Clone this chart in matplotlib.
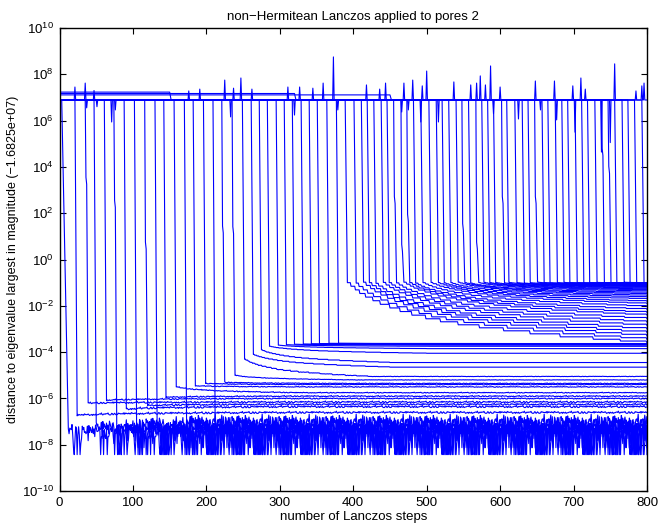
import numpy as np
import matplotlib
matplotlib.use("Agg")
import matplotlib.pyplot as plt
from matplotlib.ticker import FixedLocator, NullLocator, FuncFormatter

plt.rcParams['font.family'] = ['Liberation Sans', 'DejaVu Sans']
plt.rcParams['mathtext.fontset'] = 'custom'
plt.rcParams['mathtext.rm'] = 'Liberation Sans'

N_STEPS = 800
TOP_LEVEL = 6.89          # log10 distance of the unconverged Ritz values
ULP = 3.73e-9             # double spacing near |lambda| = 1.68e7

# ---- converging copies of the eigenvalue -------------------------------
drop_steps = [3, 21, 35, 47, 61, 74, 88, 102, 116, 130, 142, 156, 170, 182, 196,
              209, 221, 235, 249, 261, 272, 283, 295, 306, 317, 329, 340, 351, 364, 377,
              389, 401, 411, 419, 428, 438, 446, 455, 465, 473, 482, 492, 503, 513, 521,
              530, 540, 548, 557, 567, 575, 583,
              591, 602, 609, 620, 630, 638, 647, 657, 665, 675, 684, 692, 702, 711, 719,
              729, 738, 747, 756, 766, 774, 783, 793]
drop_lengths = [9] + [3] * 74
land_levels = [-8.0, -6.72, -6.2, -7.1, -6.07, -7.2, -6.45, -7.0, -6.3, -7.3, -5.95, -5.5, -6.9, -5.45, -5.35,
               -7.1, -5.3, -5.0, -4.3, -4.1, -3.9, -3.75, -3.7, -3.68, -3.66, -3.65, -3.64, -3.63, -3.62, -3.62,
               -1.0, -1.02, -0.98, -1.0, -1.03, -0.99, -1.0, -1.01, -0.98, -1.0, -1.02, -1.0, -0.99, -1.0, -1.01,
               -1.0, -0.98, -1.0, -1.02, -1.0, -0.99, -1.0,
               -1.0, -1.01, -0.99, -1.0, -1.02, -1.0, -0.98, -1.0, -1.01, -1.0, -0.99, -1.0, -1.0, -1.02, -1.0,
               -0.99, -1.0, -1.01, -1.0, -0.98, -1.0, -1.0, -1.0]
end_levels = [-8.0, -6.6, -6.15, -7.1, -6.0, -7.2, -6.35, -7.0, -6.25, -7.3, -5.9, -5.75, -6.9, -5.5, -5.4,
              -7.1, -5.35, -5.2, -5.05, -4.65, -4.45, -4.05, -3.85, -3.75, -3.7, -3.68, -3.66, -3.65, -3.64, -3.63,
              -3.6, -3.45, -3.3, -3.15, -3.0, -2.85, -2.7, -2.55, -2.4, -2.28, -2.15, -2.02, -1.9, -1.8, -1.7,
              -1.62, -1.55, -1.48, -1.42, -1.36, -1.31, -1.27,
              -1.23, -1.2, -1.17, -1.15, -1.13, -1.11, -1.09, -1.08, -1.07, -1.06, -1.05, -1.04, -1.03, -1.02, -1.02,
              -1.01, -1.01, -1.0, -1.0, -1.0, -1.0, -1.0, -1.0]
settle_steps = [300, 300, 300, 300, 300, 300, 300, 300, 300, 300, 300, 320, 300, 340, 360,
                300, 380, 400, 420, 450, 450, 500, 500, 520, 540, 560, 580, 600, 620, 640] + [800] * 45
noise_ulps = [11, 0, 0, 16, 0, 13, 0, 22, 0, 9, 0, 0, 28, 0, 0,
              15, 0, 0, 0, 0, 0, 0, 0, 0, 0, 0, 0, 0, 0, 0] + [0] * 45
# small wobble (decades) of the stagnated copies
wobble = [0, 0.05, 0.04, 0, 0.03, 0, 0.05, 0, 0.04, 0, 0.03, 0.02, 0, 0.02, 0.02,
          0, 0.02, 0.01, 0.01, 0, 0, 0, 0, 0, 0, 0, 0, 0, 0, 0] + [0] * 45

# rounding noise of converged copies, in units of one ulp
noise_pattern = [13, 9, 17, 4, 11, 1, 15, 8, 20, 12, 6, 14, 1, 10, 18, 7,
                 13, 3, 16, 11, 9, 22, 5, 12, 1, 14, 8, 19, 10, 6, 15, 2,
                 13, 17, 7, 11, 1, 16, 9, 12, 24, 4, 10, 14, 1, 8, 18, 11,
                 6, 13, 3, 15, 9, 21, 7, 12, 1, 10, 16, 5, 14, 8, 19, 11]

# shape of the slow staircase descent after a copy has landed
stair_frac_t = [0.0, 0.01, 0.025, 0.04, 0.06, 0.085, 0.11, 0.14, 0.175, 0.215, 0.26,
                0.31, 0.37, 0.44, 0.52, 0.61, 0.71, 0.82, 0.91, 1.0]
stair_frac_v = [0.0, 0.06, 0.12, 0.18, 0.24, 0.3, 0.36, 0.42, 0.48, 0.54, 0.6,
                0.65, 0.7, 0.75, 0.8, 0.85, 0.9, 0.94, 0.97, 1.0]

# short pauses part way down a drop
kink_steps = [35, 74, 116, 221, 235, 455, 465, 473, 548, 567, 602, 647, 738, 747]
kink_levels = [3.4, 2.4, 0.6, 1.3, 1.27, 2.57, 0.5, 1.8, 1.4, 0.6, 2.57, 2.57, 4.64, 3.87]

# excursions of the unconverged Ritz value
spike_steps = [21, 35, 37, 47, 51, 71, 76, 176, 191, 225, 233, 237, 247, 262, 311, 320, 327,
               345, 359, 373, 379, 418, 436, 444, 466, 469, 475, 481, 492, 494, 500, 516,
               537, 560, 568, 573, 580, 587, 591, 600, 625, 648, 655, 674, 677, 699, 702,
               710, 716, 738, 750, 756, 785, 793, 796]
spike_levels = [7.45, 7.62, 6.55, 7.3, 6.6, 5.94, 6.46, 7.28, 7.36, 7.75, 6.16, 7.4, 7.84, 7.36, 7.45, 6.24, 7.45,
                7.4, 7.62, 8.75, 6.46, 7.54, 7.36, 7.62, 6.37, 7.62, 6.46, 7.75, 5.94, 7.5, 8.14, 5.94,
                7.67, 7.54, 7.62, 7.93, 7.54, 8.36, 6.3, 7.45, 6.07, 7.71, 6.46, 7.71, 6.03, 7.5, 5.5,
                7.84, 7.36, 4.64, 5.05, 8.45, 7.28, 7.5, 7.62]

# Ritz values that never converge
band_levels = [7.23, 7.17, 7.11]
band_ends = [150, 320, 450]

pattern = np.array(noise_pattern, float)


def converging_path(j):
    d = drop_steps[j]
    lv, ev = land_levels[j], end_levels[j]
    xs, ys = [1, d], [TOP_LEVEL, TOP_LEVEL]
    if d in kink_steps:
        k = kink_levels[kink_steps.index(d)]
        xs += [d + 1, d + 2]
        ys += [k + 0.15, k - 0.15]
        land_at = d + 4
    else:
        land_at = d + drop_lengths[j]
    t = np.arange(land_at, N_STEPS + 1)
    idx = (t * 5 + j * 11) % len(pattern)
    if noise_ulps[j] > 0:
        n = np.maximum(1, np.round(pattern[idx] * noise_ulps[j] / 12.0))
        tail = np.log10(n * ULP)
    else:
        settle = max(settle_steps[j], land_at + 10)
        knot_t = land_at + np.array(stair_frac_t) * (settle - land_at)
        knot_v = lv + np.array(stair_frac_v) * (ev - lv)
        k = np.searchsorted(knot_t, t, side='right') - 1
        tail = knot_v[np.clip(k, 0, len(knot_v) - 1)]
        if wobble[j] > 0:
            tail = tail + wobble[j] * (pattern[idx] - 12.0) / 12.0
    xs += list(t)
    ys += list(tail)
    return np.array(xs, float), 10.0 ** np.array(ys)


fig = plt.figure(figsize=(6.62, 5.26), dpi=100)
ax = fig.add_axes([0.0899, 0.0665, 0.8874, 0.8803])

line_kw = dict(color=(0, 0, 1), lw=0.8)

for j in range(len(drop_steps)):
    x, y = converging_path(j)
    ax.plot(x, y, **line_kw)

# persistent top line with its excursions
px, py = [1], [TOP_LEVEL]
for s, v in sorted(zip(spike_steps, spike_levels)):
    px += [s - 1, s, s + 1]
    py += [TOP_LEVEL, v, TOP_LEVEL]
px.append(N_STEPS)
py.append(TOP_LEVEL)
ax.plot(px, 10.0 ** np.array(py), **line_kw)

for lv, e in zip(band_levels, band_ends):
    ax.plot([1, e, e + 2], 10.0 ** np.array([lv, lv, TOP_LEVEL]), **line_kw)

ax.set_yscale('log')
ax.set_xlim(0, 800)
ax.set_ylim(1e-10, 1e10)
ax.xaxis.set_major_locator(FixedLocator([0, 100, 200, 300, 400, 500, 600, 700, 800]))
ax.yaxis.set_major_locator(FixedLocator([10.0 ** k for k in range(-10, 11, 2)]))
ax.yaxis.set_minor_locator(NullLocator())
ax.yaxis.set_major_formatter(FuncFormatter(
    lambda v, pos: r'$10^{%d}$' % int(round(np.log10(v)))))
ax.tick_params(direction='in', top=True, right=True, length=4, width=0.8,
               labelsize=9.5, pad=4)
for sp in ax.spines.values():
    sp.set_linewidth(1.0)

ax.set_title('non\u2212Hermitean Lanczos applied to pores 2', fontsize=9.5, pad=6)
ax.set_xlabel('number of Lanczos steps', fontsize=9.5, labelpad=2)
ax.set_ylabel('distance to eigenvalue largest in magnitude (\u22121.6825e+07)',
              fontsize=9, labelpad=2)

fig.savefig('out.png', dpi=100)
